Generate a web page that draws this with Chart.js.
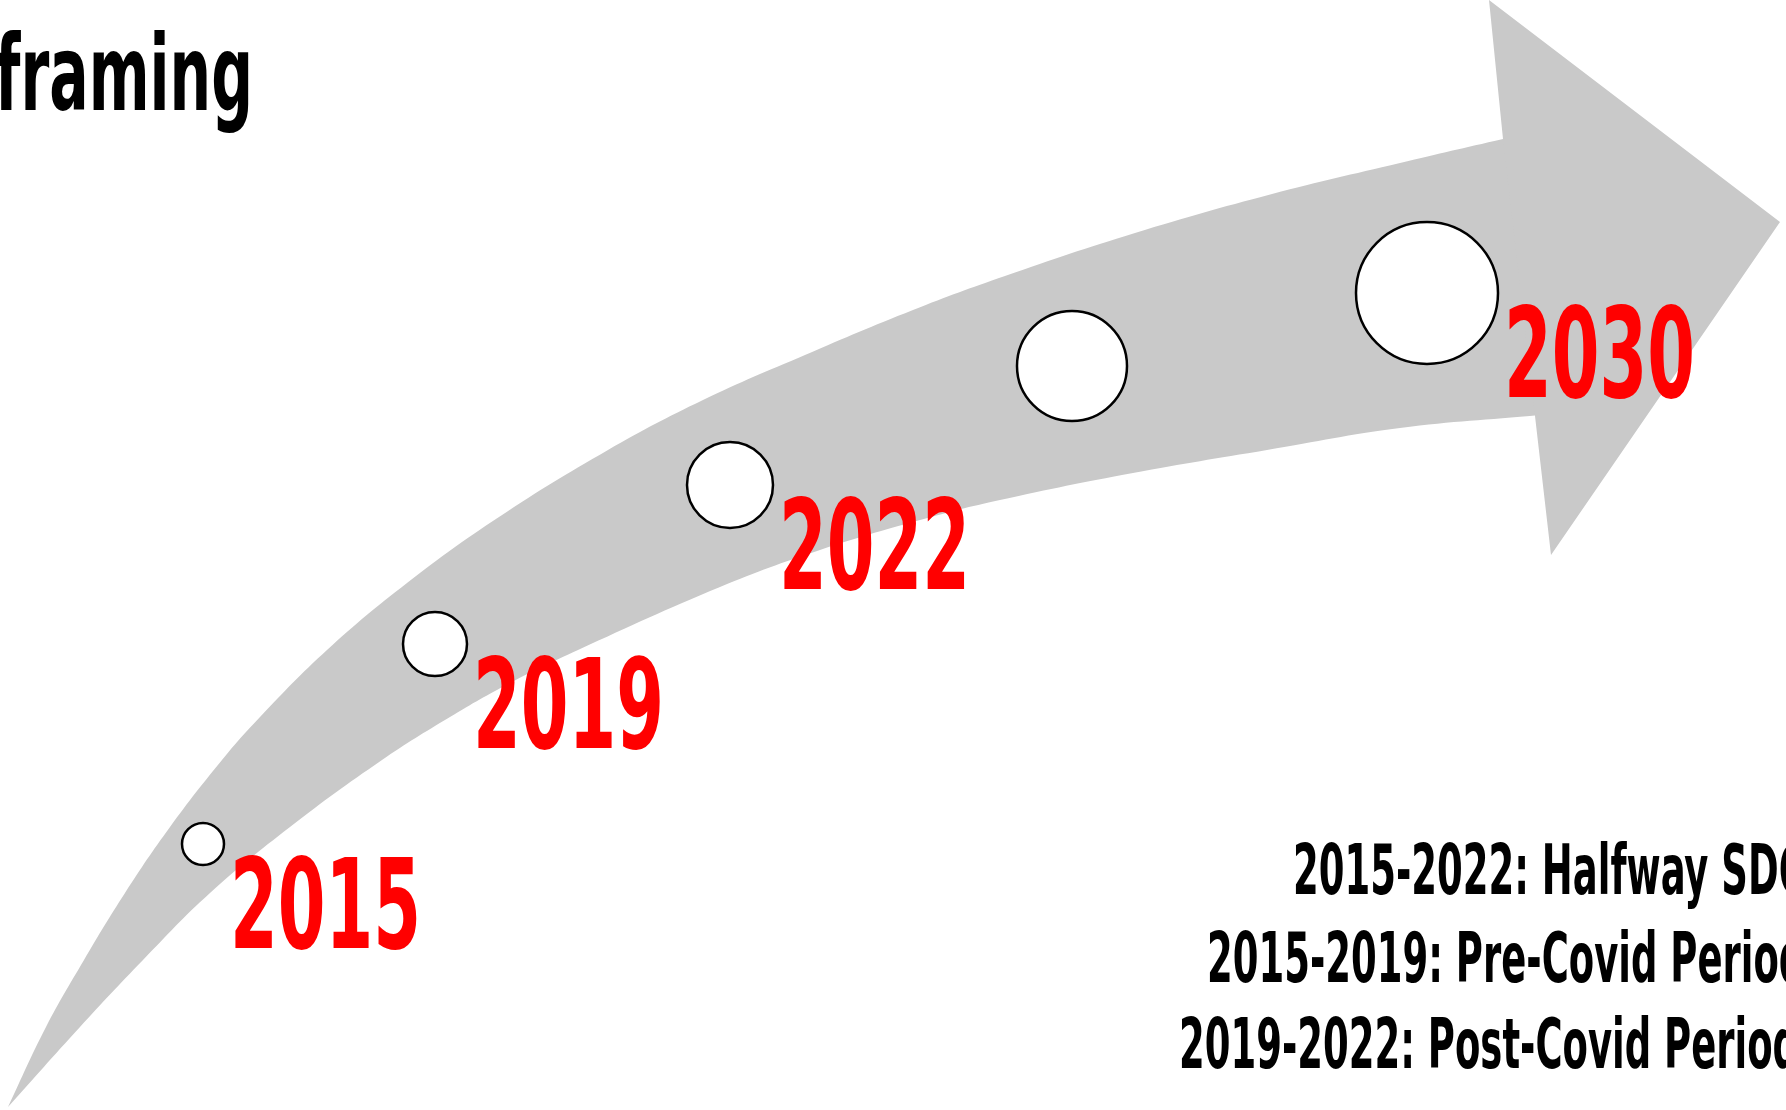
<!DOCTYPE html>
<html>
<head>
<meta charset="utf-8">
<script src="https://cdn.jsdelivr.net/npm/chart.js@4.4.1/dist/chart.umd.min.js"></script>
<style>
  html, body { margin: 0; padding: 0; background: #fff; }
  #wrap { width: 1786px; height: 1110px; position: relative; }
</style>
</head>
<body>
<div id="wrap"><canvas id="timeline-chart"></canvas></div>
<script>
// Milestones along the arrow (value grid is 1786 x 1110, y grows downwards)
const milestoneLabels = ['2015', '2019', '2022', '', '2030'];
const milestoneX = [203, 435, 730, 1072, 1427];
const milestoneY = [844, 644, 485, 366, 293];
const milestoneR = [21, 32, 43, 55, 71];

// Arrow body: upper (outer) edge and lower (inner) edge, tail to head
const upperX = [8, 46, 84, 125, 170, 222, 260, 327, 407, 499, 608, 703, 805, 913, 1005, 1135, 1272, 1400, 1503, 1540];
const upperY = [1107, 1027, 960, 893, 827, 760, 717, 650, 583, 517, 450, 400, 355, 310, 276, 233, 194, 163, 139, 131];
const lowerX = [8, 80, 143, 210, 290, 382, 450, 510, 578, 720, 820, 920, 1000, 1133, 1267, 1400, 1540];
const lowerY = [1107, 1027, 960, 893, 827, 760, 717, 683, 650, 587, 550, 520, 500, 473, 450, 428, 415];

// Arrow head outline
const headX = [1489, 1780, 1551, 1535, 1503, 1489];
const headY = [0, 222, 555, 416, 139, 0];

const titleText = 'framing';
const periodLines = [
    '2015-2022: Halfway SDG',
    '2015-2019: Pre-Covid Period',
    '2019-2022: Post-Covid Period'
];

const FONT = "'Liberation Sans Narrow', 'DejaVu Sans Condensed', 'Liberation Sans', sans-serif";
const GREY = '#c9c9c9';

// Horizontal squeeze so a reference string lands on a given width
function squeezeFor(ctx, ref, size, width) {
    ctx.save();
    ctx.font = `bold ${size}px ${FONT}`;
    const w = ctx.measureText(ref).width;
    ctx.restore();
    return width / w;
}

function drawSqueezed(ctx, text, x, y, size, sx, color, align) {
    ctx.save();
    ctx.font = `bold ${size}px ${FONT}`;
    ctx.fillStyle = color;
    ctx.textAlign = align || 'left';
    ctx.textBaseline = 'alphabetic';
    ctx.translate(x, y);
    ctx.scale(sx, 1);
    ctx.fillText(text, 0, 0);
    ctx.restore();
}

const textPlugin = {
    id: 'timelineText',
    afterDatasetsDraw(chart) {
        const ctx = chart.ctx;
        const xs = chart.scales.x;
        const ys = chart.scales.y;

        // Year labels, placed below-right of each bubble
        const yearSize = 125;
        const yearSx = squeezeFor(ctx, '2022', yearSize, 191);
        milestoneLabels.forEach((label, i) => {
            if (!label) return;
            const px = xs.getPixelForValue(milestoneX[i]) + milestoneR[i] + 6;
            const py = ys.getPixelForValue(milestoneY[i]) + 104;
            drawSqueezed(ctx, label, px, py, yearSize, yearSx, '#ff0000');
        });

        // Title (cut at the left edge)
        const titleSize = 106;
        const titleSx = squeezeFor(ctx, titleText, titleSize, 258);
        drawSqueezed(ctx, titleText, 253, 110, titleSize, titleSx, '#000000', 'right');

        // Period notes (run past the right edge)
        const noteSize = 70;
        const noteSx = squeezeFor(ctx, '2015-2022:', noteSize, 236);
        const noteX = [1293, 1207, 1179];
        const noteY = [894, 982, 1068];
        periodLines.forEach((line, i) => {
            drawSqueezed(ctx, line, noteX[i], noteY[i], noteSize, noteSx, '#000000');
        });
    }
};

const edgeStyle = {
    type: 'line',
    borderColor: 'rgba(0,0,0,0)',
    borderWidth: 0,
    pointRadius: 0,
    tension: 0.4
};

const canvas = document.getElementById('timeline-chart');

new Chart(canvas, {
    type: 'scatter',
    data: {
        datasets: [
            {
                ...edgeStyle,
                label: 'arrow upper edge',
                data: upperX.map((x, i) => ({ x: x, y: upperY[i] })),
                backgroundColor: GREY,
                fill: '+1',
                order: 3
            },
            {
                ...edgeStyle,
                label: 'arrow lower edge',
                data: lowerX.map((x, i) => ({ x: x, y: lowerY[i] })),
                backgroundColor: GREY,
                fill: false,
                order: 4
            },
            {
                type: 'line',
                label: 'arrow head',
                data: headX.map((x, i) => ({ x: x, y: headY[i] })),
                backgroundColor: GREY,
                borderColor: 'rgba(0,0,0,0)',
                borderWidth: 0,
                pointRadius: 0,
                tension: 0,
                fill: 'shape',
                order: 2
            },
            {
                type: 'bubble',
                label: 'milestones',
                data: milestoneX.map((x, i) => ({ x: x, y: milestoneY[i], r: milestoneR[i] })),
                backgroundColor: '#ffffff',
                borderColor: '#000000',
                borderWidth: 2.5,
                order: 1
            }
        ]
    },
    options: {
        responsive: true,
        maintainAspectRatio: false,
        animation: false,
        events: [],
        layout: { padding: 0, autoPadding: false },
        scales: {
            x: { type: 'linear', min: 0, max: 1786, display: false },
            y: { type: 'linear', min: 0, max: 1110, reverse: true, display: false }
        },
        plugins: {
            legend: { display: false },
            title: { display: false },
            tooltip: { enabled: false }
        }
    },
    plugins: [textPlugin]
});
</script>
</body>
</html>
